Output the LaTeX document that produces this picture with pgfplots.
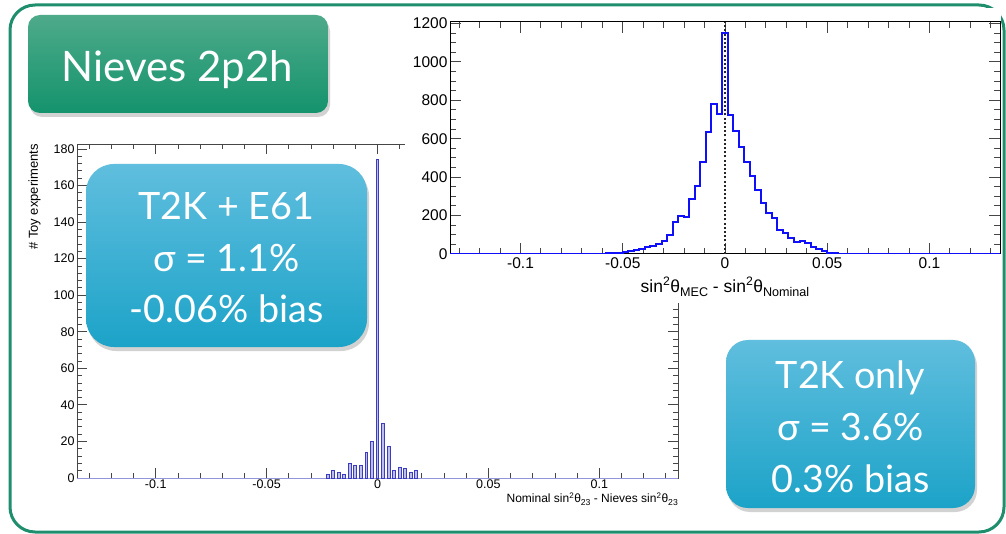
\documentclass[border=0pt]{standalone}
\usepackage{pgfplots}
\usepackage{pgfplotstable}
\pgfplotsset{compat=1.18}
\usepackage{fontspec}
\setmainfont{Liberation Sans}
\newfontfamily\gill{Lato}
\usetikzlibrary{shadows,shadings}
\definecolor{frameg}{RGB}{30,142,108}
\definecolor{titletop}{RGB}{78,170,138}
\definecolor{titlebot}{RGB}{20,147,108}
\definecolor{boxtop}{RGB}{96,190,222}
\definecolor{boxbot}{RGB}{28,163,200}
\definecolor{histblue}{RGB}{15,15,250}
\definecolor{barline}{RGB}{60,60,190}
\definecolor{barfill}{RGB}{190,190,236}
\definecolor{axgray}{RGB}{70,70,70}

\pgfplotstableread{
x y
-0.1345 0
-0.06885 0
-0.06615 1
-0.06345 1
-0.06075 2
-0.05805 3
-0.05535 4
-0.05265 7
-0.04995 10
-0.04725 15
-0.04455 21
-0.04185 27
-0.03915 35
-0.03645 43
-0.03375 53
-0.03105 66
-0.02835 100
-0.02565 165
-0.02295 200
-0.02025 195
-0.01755 284
-0.01485 353
-0.01215 478
-0.00945 633
-0.00675 779
-0.00405 728
-0.00135 1150
0.00135 725
0.00405 641
0.00675 558
0.00945 478
0.01215 404
0.01485 332
0.01755 265
0.02025 213
0.02295 187
0.02565 127
0.02835 107
0.03105 83
0.03375 65
0.03645 70
0.03915 55
0.04185 38
0.04455 24
0.04725 15
0.04995 7
0.05265 4
0.05535 2
0.05805 1
0.06075 1
0.06345 0
0.1345 0
}\righthist

\pgfplotstableread{
x y
-0.0225 2
-0.0200 4
-0.0175 3
-0.0150 2
-0.0125 8
-0.0100 7
-0.0075 7
-0.0050 14
-0.0025 20
0.0000 174
0.0025 30
0.0050 17
0.0075 4
0.0100 6
0.0125 5
0.0150 3
0.0175 4
}\lefthist

\newcommand{\supt}[1]{\textsuperscript{#1}}
\newcommand{\subt}[1]{\raisebox{-0.45ex}{\scalebox{0.72}{#1}}}

\begin{document}
\begin{tikzpicture}
\begin{scope}[x=1pt,y=-1pt]
\useasboundingbox (0,0) rectangle (1006,534);
\fill[white] (0,0) rectangle (1006,534);
\draw[frameg, line width=3pt, rounded corners=25pt] (10,5) rectangle (1004,532);
\end{scope}

% ---------------- left histogram ----------------
\begin{axis}[at={(77pt,-478pt)}, anchor=south west, scale only axis,
  width=601pt, height=334pt,
  xmin=-0.1355, xmax=0.1355, ymin=0, ymax=182.7,
  /pgf/number format/assume math mode=true,
  /pgf/number format/1000 sep={},
  axis line style={axgray, line width=0.8pt},
  tick style={axgray, line width=0.8pt},
  major tick length=10pt, minor tick length=5pt,
  xtick={-0.1,-0.05,0,0.05,0.1},
  xticklabels={-0.1,-0.05,0,0.05,0.1},
  minor xtick={-0.13,-0.12,-0.11,-0.09,-0.08,-0.07,-0.06,-0.04,-0.03,-0.02,-0.01,0.01,0.02,0.03,0.04,0.06,0.07,0.08,0.09,0.11,0.12,0.13},
  ytick={0,20,...,180},
  minor ytick={0,4,...,180},
  tick label style={font=\fontsize{12.5}{12.5}\selectfont, text=black},
  xticklabel style={yshift=1.5pt},
  yticklabel style={xshift=1pt},
  xlabel={Nominal sin\supt{2}θ\subt{23} - Nieves sin\supt{2}θ\subt{23}},
  xlabel style={at={(axis description cs:1,-0.0735)}, anchor=base east, font=\fontsize{12}{12}\selectfont, inner sep=0pt},
  ylabel={\# Toy experiments},
  ylabel style={at={(axis description cs:-0.0649,1)}, anchor=base east, font=\fontsize{13}{13}\selectfont, inner sep=0pt},
]
\addplot[barline!55, line width=1pt] coordinates {(-0.1355,0) (0.1355,0)};
\addplot[ybar, bar width=2.8pt, bar shift=0pt, draw=barline, fill=barfill, line width=0.9pt] table {\lefthist};
\end{axis}

% white background of right picture
\begin{scope}[x=1pt,y=-1pt]
\fill[white] (405,8) rectangle (1001,303);
\end{scope}

% ---------------- right histogram ----------------
\begin{axis}[at={(450pt,-254pt)}, anchor=south west, scale only axis,
  width=550pt, height=232pt,
  xmin=-0.1345, xmax=0.1345, ymin=0, ymax=1208,
  /pgf/number format/assume math mode=true,
  /pgf/number format/1000 sep={},
  axis line style={black, line width=1pt},
  tick style={axgray, line width=1pt},
  major tick length=11pt, minor tick length=6pt,
  xtick={-0.1,-0.05,0,0.05,0.1},
  xticklabels={-0.1,-0.05,0,0.05,0.1},
  minor xtick={-0.13,-0.12,-0.11,-0.09,-0.08,-0.07,-0.06,-0.04,-0.03,-0.02,-0.01,0.01,0.02,0.03,0.04,0.06,0.07,0.08,0.09,0.11,0.12,0.13},
  ytick={0,200,...,1200},
  minor ytick={0,50,...,1200},
  tick label style={font=\fontsize{15.5}{15.5}\selectfont, text=black},
  xticklabel style={yshift=0pt},
  yticklabel style={xshift=1pt},
  xlabel={sin\supt{2}θ\subt{MEC} - sin\supt{2}θ\subt{Nominal}},
  xlabel style={at={(axis description cs:0.5,-0.164)}, anchor=base, font=\fontsize{17.5}{17.5}\selectfont, inner sep=0pt},
]
\addplot[const plot, histblue, line width=2pt] table {\righthist};
\addplot[black!85, line width=1.8pt, dash pattern=on 2pt off 2.2pt] coordinates {(0,0) (0,1208)};
\end{axis}

% ---------------- boxes ----------------
\begin{scope}[x=1pt,y=-1pt]
\path[drop shadow={shadow xshift=2pt, shadow yshift=-4pt, opacity=0.35}, top color=titletop, bottom color=titlebot, rounded corners=12pt] (28,15) rectangle (328,113);
\node[text=white, font=\gill\fontsize{42}{42}\selectfont, anchor=base, inner sep=0pt] at (177.5,82) {Nieves 2p2h};

\path[drop shadow={shadow xshift=2pt, shadow yshift=-4pt, opacity=0.35}, top color=boxtop, bottom color=boxbot, rounded corners=28pt] (86,164) rectangle (367,347);
\node[text=white, font=\gill\fontsize{37.7}{38}\selectfont, anchor=base, inner sep=0pt] at (226.5,220) {T2K + E61};
\node[text=white, font=\gill\fontsize{37.7}{38}\selectfont, anchor=base, inner sep=0pt] at (226.5,271.5) {σ = 1.1\%};
\node[text=white, font=\gill\fontsize{37.7}{38}\selectfont, anchor=base, inner sep=0pt] at (226.5,323) {-0.06\% bias};

\path[drop shadow={shadow xshift=2pt, shadow yshift=-4pt, opacity=0.35}, top color=boxtop, bottom color=boxbot, rounded corners=22pt] (726,340) rectangle (975,508);
\node[text=white, font=\gill\fontsize{37.7}{38}\selectfont, anchor=base, inner sep=0pt] at (850.5,388) {T2K only};
\node[text=white, font=\gill\fontsize{37.7}{38}\selectfont, anchor=base, inner sep=0pt] at (850.5,440) {σ = 3.6\%};
\node[text=white, font=\gill\fontsize{37.7}{38}\selectfont, anchor=base, inner sep=0pt] at (850.5,492) {0.3\% bias};
\end{scope}
\end{tikzpicture}
\end{document}
